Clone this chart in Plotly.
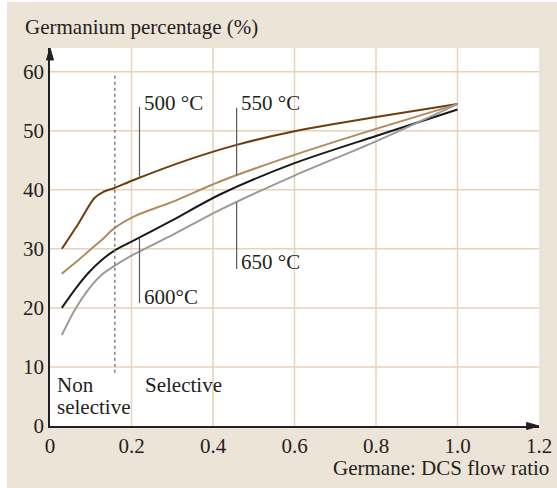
import numpy as np
import plotly.graph_objects as go

# Germanium content vs. germane:DCS flow ratio for four growth temperatures
x_500 = [0.029, 0.07, 0.109, 0.13, 0.158, 0.207, 0.34, 0.458, 0.6, 0.8, 1.0]
y_500 = [30.0, 34.3, 38.6, 39.6, 40.3, 41.7, 45.1, 47.6, 49.9, 52.3, 54.5]

x_550 = [0.029, 0.07, 0.098, 0.127, 0.158, 0.207, 0.302, 0.417, 0.6, 0.8, 1.0]
y_550 = [25.8, 28.1, 29.8, 31.5, 33.5, 35.5, 38.0, 41.4, 45.9, 50.3, 54.5]

x_600 = [0.029, 0.061, 0.094, 0.127, 0.158, 0.2, 0.302, 0.417, 0.6, 0.8, 1.0]
y_600 = [20.0, 23.1, 25.9, 28.1, 29.7, 31.2, 34.9, 39.2, 44.5, 49.1, 53.6]

x_650 = [0.029, 0.061, 0.094, 0.127, 0.158, 0.204, 0.302, 0.417, 0.6, 0.8, 1.0]
y_650 = [15.4, 19.7, 23.1, 25.6, 27.1, 29.0, 32.4, 36.6, 42.4, 48.2, 54.5]

x_ticks = [0, 0.2, 0.4, 0.6, 0.8, 1.0, 1.2]
x_tick_text = ["0", "0.2", "0.4", "0.6", "0.8", "1.0", "1.2"]
y_ticks = [0, 10, 20, 30, 40, 50, 60]

selectivity_limit = 0.159

BG = "#ede4d8"
GRID = "#e6d3bb"
AXIS = "#231f20"
FONT = "Liberation Serif"
FS = 21

series = [
    ("500 °C", x_500, y_500, "#6e3d0b"),
    ("550 °C", x_550, y_550, "#b08b60"),
    ("600°C", x_600, y_600, "#1a1a1a"),
    ("650 °C", x_650, y_650, "#9a9a9a"),
]

fig = go.Figure()
for name, xs, ys, col in series:
    fig.add_trace(go.Scatter(x=xs, y=ys, mode="lines", name=name,
                             line=dict(color=col, width=2, shape="spline", smoothing=0.8),
                             hoverinfo="skip"))

shapes = []
# grid
for gx in x_ticks[1:-1]:
    shapes.append(dict(type="line", xref="x", yref="y", x0=gx, x1=gx, y0=0, y1=64,
                       line=dict(color=GRID, width=1.5), layer="below"))
for gy in y_ticks[1:]:
    shapes.append(dict(type="line", xref="x", yref="y", x0=0, x1=1.2, y0=gy, y1=gy,
                       line=dict(color=GRID, width=1.5), layer="below"))

# selective / non-selective boundary
shapes.append(dict(type="line", xref="x", yref="y", x0=selectivity_limit, x1=selectivity_limit,
                   y0=9, y1=59.7, line=dict(color="#808080", width=1.5, dash="dot")))

# leader lines for the temperature labels
def on_curve(xs, ys, x):
    return float(np.interp(x, xs, ys))

leaders = [
    (0.2196, on_curve(x_500, y_500, 0.2196), 54.0),
    (0.458, on_curve(x_550, y_550, 0.458), 53.9),
    (0.2196, on_curve(x_600, y_600, 0.2196), 20.8),
    (0.458, on_curve(x_650, y_650, 0.458), 26.6),
]
for lx, ly0, ly1 in leaders:
    shapes.append(dict(type="line", xref="x", yref="y", x0=lx, x1=lx, y0=ly0, y1=ly1,
                       line=dict(color="#5a5a5a", width=1.2)))

# arrowheads on the axes
shapes.append(dict(type="path", xref="paper", yref="paper",
                   path="M -0.0072 0.9683 L 0 1 L 0.0072 0.9683 Z",
                   fillcolor=AXIS, line=dict(color=AXIS, width=1)))
shapes.append(dict(type="path", xref="paper", yref="paper",
                   path="M 0.9748 -0.0093 L 1 0 L 0.9748 0.0093 Z",
                   fillcolor=AXIS, line=dict(color=AXIS, width=1)))

# white margin strips around the panel
shapes.append(dict(type="rect", xref="paper", yref="paper", x0=-0.11, x1=-0.0879,
                   y0=-0.17, y1=1.14, fillcolor="white", line=dict(width=0), layer="below"))
shapes.append(dict(type="rect", xref="paper", yref="paper", x0=-0.11, x1=1.05,
                   y0=1.122, y1=1.14, fillcolor="white", line=dict(width=0), layer="below"))

tfont = dict(family=FONT, size=FS, color=AXIS)
annotations = [
    dict(text="500 °C", x=0.226, y=54.7, xanchor="left", yanchor="middle"),
    dict(text="550 °C", x=0.463, y=54.7, xanchor="left", yanchor="middle"),
    dict(text="600°C", x=0.226, y=21.9, xanchor="left", yanchor="middle"),
    dict(text="650 °C", x=0.463, y=27.8, xanchor="left", yanchor="middle"),
    dict(text="Non", x=0.012, y=6.9, xanchor="left", yanchor="middle"),
    dict(text="selective", x=0.012, y=3.2, xanchor="left", yanchor="middle"),
    dict(text="Selective", x=0.228, y=6.9, xanchor="left", yanchor="middle"),
]
for a in annotations:
    a.update(xref="x", yref="y", showarrow=False, font=tfont)
annotations.append(dict(text="Germanium percentage (%)", xref="paper", yref="paper",
                        x=-0.0558, y=1.0556, xanchor="left", yanchor="middle",
                        showarrow=False, font=tfont))
annotations.append(dict(text="Germane: DCS flow ratio", xref="paper", yref="paper",
                        x=1.0245, y=-0.112, xanchor="right", yanchor="middle",
                        showarrow=False, font=tfont))

fig.update_layout(
    width=557, height=488,
    margin=dict(l=50, r=18, t=48, b=62, autoexpand=False),
    paper_bgcolor=BG, plot_bgcolor="white",
    showlegend=False,
    shapes=shapes, annotations=annotations,
    font=tfont,
    xaxis=dict(range=[0, 1.2], tickvals=x_ticks, ticktext=x_tick_text,
               showgrid=False, zeroline=False, showline=True, linecolor=AXIS,
               linewidth=1.5, ticks="", tickfont=tfont, fixedrange=True,
               automargin=False),
    yaxis=dict(range=[0, 64], tickvals=y_ticks, showgrid=False, zeroline=False,
               showline=True, linecolor=AXIS, linewidth=1.5, ticks="",
               tickfont=tfont, fixedrange=True, automargin=False),
)

fig.write_html(
    "out.html",
    config={"responsive": False, "displayModeBar": False},
    post_script="document.documentElement.style.overflow='hidden';"
                "document.body.style.margin='0';document.body.style.overflow='hidden';",
)
